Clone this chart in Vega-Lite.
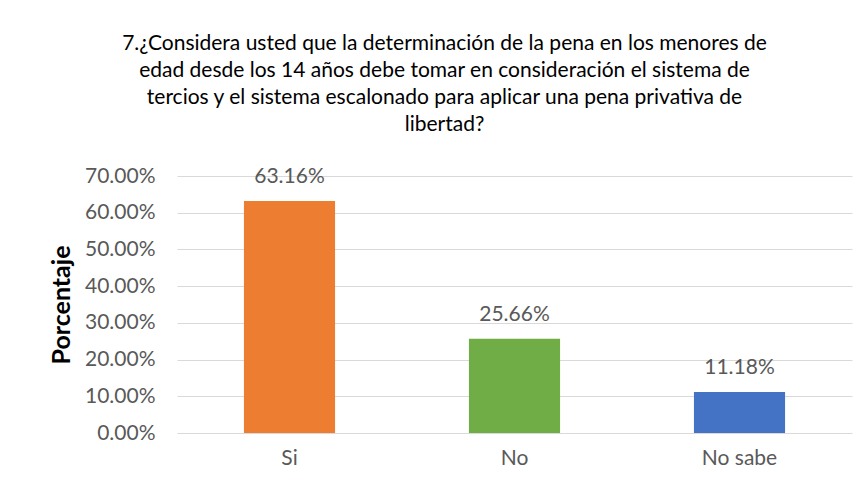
{
  "$schema": "https://vega.github.io/schema/vega-lite/v6.json",
  "autosize": {"type": "none"},
  "width": 675,
  "height": 257,
  "padding": {"left": 177, "top": 176, "right": 13, "bottom": 55},
  "background": "white",
  "title": {
    "text": ["7.¿Considera usted que la determinación de la pena en los menores de", "edad desde los 14 años debe tomar en consideración el sistema de", "tercios y el sistema escalonado para aplicar una pena privativa de", "libertad?"],
    "font": "Lato",
    "fontSize": 21,
    "fontWeight": "normal",
    "color": "#000000",
    "lineHeight": 27,
    "anchor": "middle",
    "dx": -70,
    "offset": 30
  },
  "config": {
    "view": {"stroke": null},
    "font": "Lato"
  },
  "data": {
    "values": [
      {"respuesta": "Si", "porcentaje": 0.6316},
      {"respuesta": "No", "porcentaje": 0.2566},
      {"respuesta": "No sabe", "porcentaje": 0.1118}
    ]
  },
  "encoding": {
    "x": {
      "field": "respuesta",
      "type": "nominal",
      "sort": null,
      "scale": {"paddingInner": 0.595, "paddingOuter": 0.2975},
      "axis": {
        "title": null,
        "labelAngle": 0,
        "labelFont": "Lato",
        "labelFontSize": 21,
        "labelColor": "#595959",
        "labelPadding": 14,
        "ticks": false,
        "domain": false
      }
    },
    "y": {
      "field": "porcentaje",
      "type": "quantitative",
      "scale": {"domain": [0, 0.7]},
      "axis": {
        "title": "Porcentaje",
        "titleFont": "Lato",
        "titleFontSize": 25,
        "titleFontWeight": "bold",
        "titleColor": "#000000",
        "titlePadding": 10,
        "format": ".2%",
        "values": [0, 0.1, 0.2, 0.3, 0.4, 0.5, 0.6, 0.7],
        "labelFont": "Lato",
        "labelFontSize": 21,
        "labelColor": "#595959",
        "labelPadding": 22,
        "ticks": false,
        "domain": false,
        "grid": true,
        "gridColor": "#D9D9D9",
        "gridWidth": 1
      }
    }
  },
  "layer": [
    {
      "mark": {"type": "bar"},
      "encoding": {
        "color": {
          "field": "respuesta",
          "type": "nominal",
          "scale": {"domain": ["Si", "No", "No sabe"], "range": ["#ED7D31", "#70AD47", "#4472C4"]},
          "legend": null
        }
      }
    },
    {
      "mark": {"type": "text", "baseline": "alphabetic", "dy": -18, "font": "Lato", "fontSize": 21, "color": "#595959"},
      "encoding": {
        "text": {"field": "porcentaje", "type": "quantitative", "format": ".2%"}
      }
    }
  ]
}
